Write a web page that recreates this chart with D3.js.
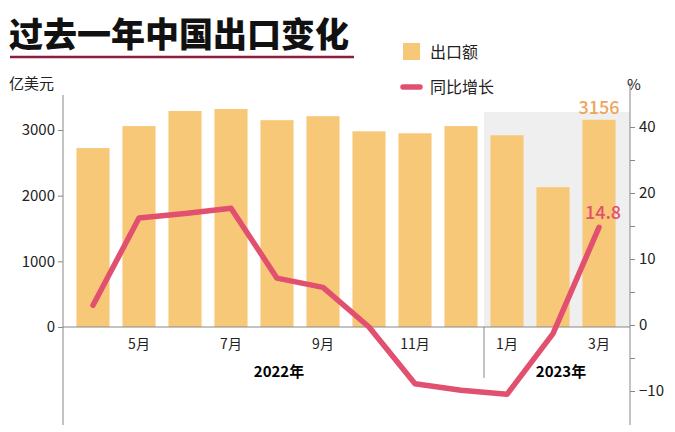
<!DOCTYPE html>
<html><head><meta charset="utf-8">
<script src="https://cdn.jsdelivr.net/npm/d3@7"></script>
<style>body{margin:0;background:#fff}text{font-family:"Noto Sans CJK SC","Noto Sans",sans-serif}</style>
</head><body><div id="container"></div>
<script>
let w = 675;
let h = 432;

// data
let months = ["4月","5月","6月","7月","8月","9月","10月","11月","12月","1月","2月","3月"];
let shownMonths = ["5月","7月","9月","11月","1月","3月"];
let exports = [2725, 3060, 3290, 3320, 3150, 3210, 2980, 2950, 3060, 2920, 2130, 3156];
let growth = [3.0, 16.2, 16.9, 17.7, 7.1, 5.7, -0.3, -8.9, -9.9, -10.5, -1.3, 14.8];
let leftTicks = [0, 1000, 2000, 3000];
let rightTicks = [-10, 0, 10, 20, 30];
let rightTickLabels = ["\u221210", "0", "10", "20", "40"]; // as printed in the original

let viz = d3.select("#container").append("svg")
  .attr("width", w).attr("height", h);

let x = d3.scaleBand().domain(months).range([70, 622]).paddingInner(0.28).paddingOuter(0.14);
let yL = d3.scaleLinear().domain([0, 3000]).range([327, 130]);
let yR = d3.scaleLinear().domain([-10, 30]).range([391, 127]);

// title
viz.append("text").attr("x", 9).attr("y", 47).text("过去一年中国出口变化")
  .style("font-size", "34px").style("font-weight", "900").attr("fill", "#111");
viz.append("line").attr("x1", 10).attr("x2", 354).attr("y1", 57).attr("y2", 57)
  .attr("stroke", "#8c1c3c").attr("stroke-width", 2.5);

// 2023 shading
let x0 = x("1月") - (x.step() - x.bandwidth()) / 2;
viz.append("rect").attr("x", x0).attr("y", 112).attr("width", 630 - x0).attr("height", 327 - 112)
  .attr("fill", "#efefef");

// bars
viz.selectAll(".bar").data(exports).enter().append("rect")
  .attr("x", (d, i) => x(months[i])).attr("width", x.bandwidth())
  .attr("y", d => yL(d)).attr("height", d => yL(0) - yL(d))
  .attr("fill", "#f8c879");

// axes
let left = viz.append("g").attr("transform", "translate(63,0)")
  .call(d3.axisLeft(yL).tickValues(leftTicks).tickSize(5).tickFormat(d3.format("d")));
left.select(".domain").remove();
left.selectAll("text").style("font-size", "15px").attr("fill", "#222").attr("x", -8);
left.selectAll("line").attr("stroke", "#888");
viz.append("line").attr("x1", 63).attr("x2", 63).attr("y1", 95).attr("y2", 425).attr("stroke", "#888");

let right = viz.append("g").attr("transform", "translate(630,0)")
  .call(d3.axisRight(yR).tickValues(d3.range(-10, 31, 5)).tickSize(5)
    .tickFormat(d => { let k = rightTicks.indexOf(d); return k < 0 ? "" : rightTickLabels[k]; }));
right.select(".domain").remove();
right.selectAll("text").style("font-size", "15px").attr("fill", "#222").attr("x", 9);
right.selectAll("line").attr("stroke", "#888");
viz.append("line").attr("x1", 630).attr("x2", 630).attr("y1", 83).attr("y2", 425).attr("stroke", "#888");

viz.append("line").attr("x1", 63).attr("x2", 630).attr("y1", yL(0)).attr("y2", yL(0)).attr("stroke", "#888");

// month labels
viz.selectAll(".mlab").data(shownMonths).enter().append("text")
  .attr("x", d => x(d) + x.bandwidth() / 2).attr("y", 349).attr("text-anchor", "middle")
  .style("font-size", "14px").attr("fill", "#222").text(d => d);
viz.append("line").attr("x1", x0).attr("x2", x0).attr("y1", 327).attr("y2", 378).attr("stroke", "#888");
viz.append("text").attr("x", (70 + x0) / 2 + 2).attr("y", 377).attr("text-anchor", "middle")
  .style("font-size", "15px").style("font-weight", "bold").text("2022年");
viz.append("text").attr("x", (x0 + 630) / 2 + 4).attr("y", 377).attr("text-anchor", "middle")
  .style("font-size", "15px").style("font-weight", "bold").text("2023年");

// line
let line = d3.line().x((d, i) => x(months[i]) + x.bandwidth() / 2).y(d => yR(d));
viz.append("path").datum(growth).attr("d", line).attr("fill", "none")
  .attr("stroke", "#e2506f").attr("stroke-width", 5.5).attr("stroke-linejoin", "round").attr("stroke-linecap", "round");

// end labels
let last = months.length - 1;
viz.append("text").attr("x", x(months[last]) + x.bandwidth() / 2).attr("y", yL(exports[last]) - 6)
  .attr("text-anchor", "middle").style("font-size", "18px").style("font-weight", "500").attr("fill", "#f0a55c").text(exports[last]);
viz.append("text").attr("x", x(months[last]) + x.bandwidth() / 2 + 4).attr("y", yR(growth[last]) - 8)
  .attr("text-anchor", "middle").style("font-size", "18px").style("font-weight", "500").attr("fill", "#e2506f").text(growth[last]);

// units
viz.append("text").attr("x", 9).attr("y", 89).style("font-size", "15px").attr("fill", "#222").text("亿美元");
viz.append("text").attr("x", 627).attr("y", 90).style("font-size", "15px").attr("fill", "#222").text("%");

// legend
viz.append("rect").attr("x", 403).attr("y", 43).attr("width", 17).attr("height", 17).attr("fill", "#f8c879");
viz.append("text").attr("x", 430).attr("y", 58).style("font-size", "16px").attr("fill", "#222").text("出口额");
viz.append("line").attr("x1", 403).attr("x2", 420).attr("y1", 87).attr("y2", 87)
  .attr("stroke", "#e2506f").attr("stroke-width", 5.5).attr("stroke-linecap", "round");
viz.append("text").attr("x", 430).attr("y", 93).style("font-size", "16px").attr("fill", "#222").text("同比增长");
</script></body></html>
